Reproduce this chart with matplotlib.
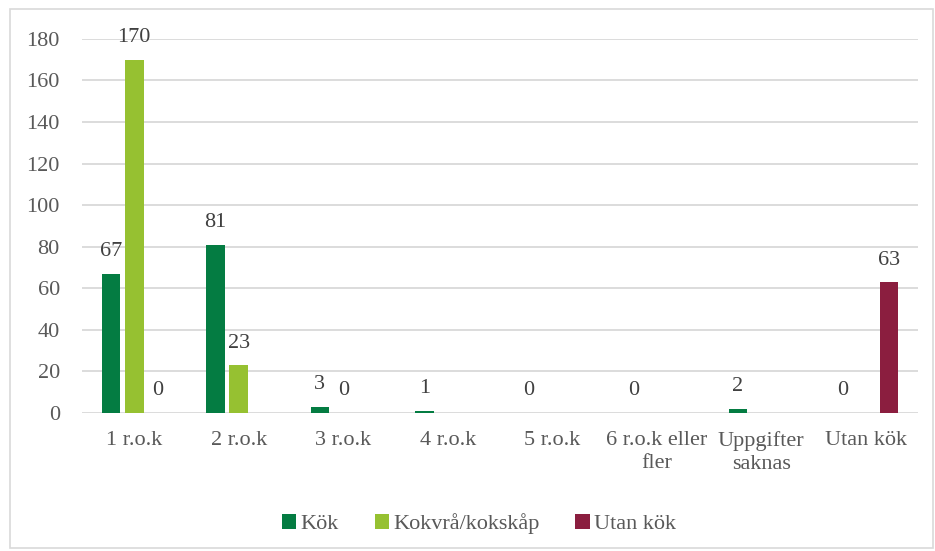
#!/usr/bin/env python3

import numpy as np
import matplotlib
matplotlib.use("Agg")
import matplotlib.pyplot as plt
from matplotlib.patches import Rectangle

plt.rc("font", family=["Liberation Serif", "DejaVu Serif"])

# Data
categories = ["1 r.o.k", "2 r.o.k", "3 r.o.k", "4 r.o.k", "5 r.o.k",
              "6 r.o.k eller\nfler", "Uppgifter\nsaknas", "Utan kök"]
series = ["Kök", "Kokvrå/kokskåp", "Utan kök"]
kok = [67, 81, 3, 1, 0, 0, 2, 0]
kokvra = [170, 23, 0, np.nan, np.nan, np.nan, np.nan, np.nan]
utan_kok = [0, np.nan, np.nan, np.nan, np.nan, np.nan, np.nan, 63]
yticks = [0, 20, 40, 60, 80, 100, 120, 140, 160, 180]

colors = ["#047C42", "#96C131", "#8B1E3F"]
text_grey = "#595959"
label_grey = "#404040"
fs = 16

fig = plt.figure(figsize=(9.35, 5.51), dpi=100)
ax = fig.add_axes([0.0877, 0.2505, 0.894, 0.679])

# outer frame of the chart area
fig.patches.append(Rectangle((0.011, 0.005), 0.987, 0.978, transform=fig.transFigure,
                             fill=False, edgecolor="#D9D9D9", linewidth=1.2))

x = np.arange(len(categories))
width = 0.178
step = 0.223
for i, (vals, name) in enumerate(zip([kok, kokvra, utan_kok], series)):
    vals = np.array(vals, dtype=float)
    pos = x + (i - 1) * step
    mask = ~np.isnan(vals)
    ax.bar(pos[mask], vals[mask], width=width, color=colors[i], label=name, zorder=3)
    for p, v in zip(pos[mask], vals[mask]):
        ax.annotate(f"{int(v)}", (p, v), xytext=(0, 9), textcoords="offset points",
                    ha="center", va="bottom", fontsize=fs, color=label_grey)

ax.set_xlim(-0.5, len(categories) - 0.5)
ax.set_ylim(0, 180)
ax.set_yticks(yticks)
ax.set_xticks(x)
ax.set_xticklabels(categories, fontsize=fs, color=text_grey, linespacing=1.3, va="top")
ax.tick_params(axis="y", labelsize=fs, labelcolor=text_grey, length=0, pad=16)
ax.tick_params(axis="x", length=0, pad=13)
ax.grid(axis="y", color="#D9D9D9", linewidth=1.3, zorder=0)
for s in ax.spines.values():
    s.set_visible(False)

ax.legend(loc="upper center", bbox_to_anchor=(0.475, -0.215), ncol=3, frameon=False,
          fontsize=fs, labelcolor=text_grey, handlelength=0.65, handleheight=0.65,
          handletextpad=0.2, columnspacing=1.6)

plt.savefig("out.png", dpi=100)
